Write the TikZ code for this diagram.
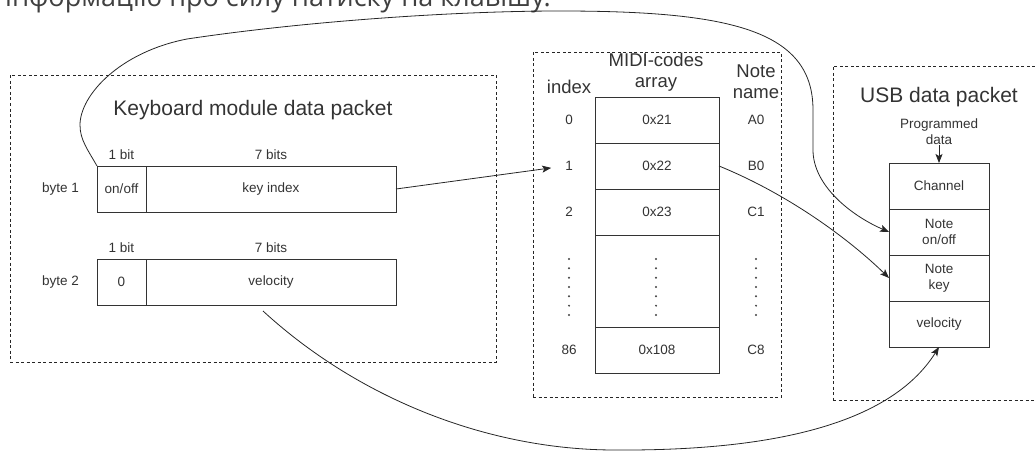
\documentclass[tikz,border=0pt]{standalone}
\usepackage{fontspec}
\setmainfont{Liberation Sans}
\newfontfamily\uafont{Open Sans}
\usetikzlibrary{positioning,arrows.meta}

\begin{document}
\begin{tikzpicture}[x=1pt,y=-1pt,
  lbl/.style={inner sep=0pt,text=black!80,font=\fontsize{13.5}{16}\selectfont},
  colhead/.style={inner sep=0pt,text=black!80,align=center,font=\fontsize{18.5}{21.5}\selectfont},
  grouptitle/.style={inner sep=0pt,text=black!80,font=\fontsize{21}{25}\selectfont},
  cell/.style={draw=black!80,line width=0.8pt,inner sep=0pt,outer sep=0pt,minimum height=46pt,
    text=black!80,align=center,font=\fontsize{13.5}{16}\selectfont},
  pktbox/.style={draw=black!85,line width=0.7pt,dash pattern=on 3pt off 2.5pt,inner sep=0pt,outer sep=0pt},
  link/.style={draw=black!85,line width=0.8pt,-{Stealth[length=9pt,width=7pt,inset=2pt]}}]

% page, with the cut line of text above the diagram
\useasboundingbox (0,0) rectangle (1035,452);
\clip (0,0) rectangle (1035,452);
\node[anchor=base west,inner sep=0pt,text=black!75,font=\uafont\fontsize{27}{30}\selectfont] (prevline) at (5,7) {інформацію про силу натиску на клавішу.};

% Keyboard module packet
\node[pktbox,minimum width=486pt,minimum height=287pt] (kbd) at (253,218.5) {};
\node[grouptitle] (kbdtitle) at (253,110) {Keyboard module data packet};
\node[cell,minimum width=49pt] (on1) at (121.5,189) {on/off};
\node[cell,minimum width=250pt,right=0pt of on1] (key1) {key index};
\node[cell,minimum width=49pt] (on2) at (121.5,282) {0};
\node[cell,minimum width=250pt,right=0pt of on2] (vel2) {velocity};
\node[lbl,above=6pt of on1] (bitA1) {1 bit};
\node[lbl,above=6pt of key1] (bitB1) {7 bits};
\node[lbl,above=6pt of on2] (bitA2) {1 bit};
\node[lbl,above=6pt of vel2] (bitB2) {7 bits};
\node[lbl,left=18pt of on1] (byte1) {byte 1};
\node[lbl,left=18pt of on2] (byte2) {byte 2};

% MIDI-codes array
\node[pktbox,minimum width=248pt,minimum height=345pt] (midi) at (657,224.5) {};
\node[colhead] (mhead) at (656,72) {MIDI-codes\\array};
\node[colhead] (ihead) at (569,87) {index};
\node[colhead] (nhead) at (756,81.5) {Note\\name};
\node[cell,minimum width=124pt] (a0) at (657,120) {0x21};
\node[cell,minimum width=124pt,below=0pt of a0] (a1) {0x22};
\node[cell,minimum width=124pt,below=0pt of a1] (a2) {0x23};
\node[cell,minimum width=124pt,minimum height=92pt,below=0pt of a2] (adots) {};
\node[cell,minimum width=124pt,below=0pt of adots] (a86) {0x108};
\foreach \r/\i/\n in {a0/0/A0,a1/1/B0,a2/2/C1,a86/86/C8} {
  \node[lbl] (idx\i) at (\r -| ihead) {\i};
  \node[lbl] (note\i) at (\r -| nhead) {\n};
}
\foreach \x in {569,656,756}
  \foreach \k in {0,...,6}
    \fill[black!75] (\x,259+9.33*\k) circle (1.1pt);

% USB packet
\node[pktbox,minimum width=220pt,minimum height=334pt] (usb) at (943,233) {};
\node[grouptitle] (usbtitle) at (939,97) {USB data packet};
\node[lbl,align=center] (prog) at (939,132) {Programmed\\data};
\node[cell,minimum width=100pt] (uch) at (939,186) {Channel};
\node[cell,minimum width=100pt,below=0pt of uch] (uon) {Note\\on/off};
\node[cell,minimum width=100pt,below=0pt of uon] (ukey) {Note\\key};
\node[cell,minimum width=100pt,below=0pt of ukey] (uvel) {velocity};

% connectors
\draw[link] (prog.south) -- (uch.north);
\draw[link,shorten >=14pt] (key1.east) -- (idx1.west);
\draw[link] (a1.east) .. controls (790,195) and (850,240) .. (ukey.west);
\draw[link] (on1.north west) .. controls (88,150) and (80,140) .. (80,125)
  .. controls (80,95) and (120,52) .. (187,39)
  .. controls (300,22) and (450,11) .. (560,11)
  .. controls (730,11) and (813,30) .. (813,110)
  -- (813,150)
  .. controls (813,185) and (850,215) .. (uon.west);
\draw[link] ([xshift=-8pt,yshift=-6pt]vel2.south) .. controls (360,400) and (490,450) .. (615,450)
  .. controls (770,451) and (890,425) .. (uvel.south);

\end{tikzpicture}
\end{document}
